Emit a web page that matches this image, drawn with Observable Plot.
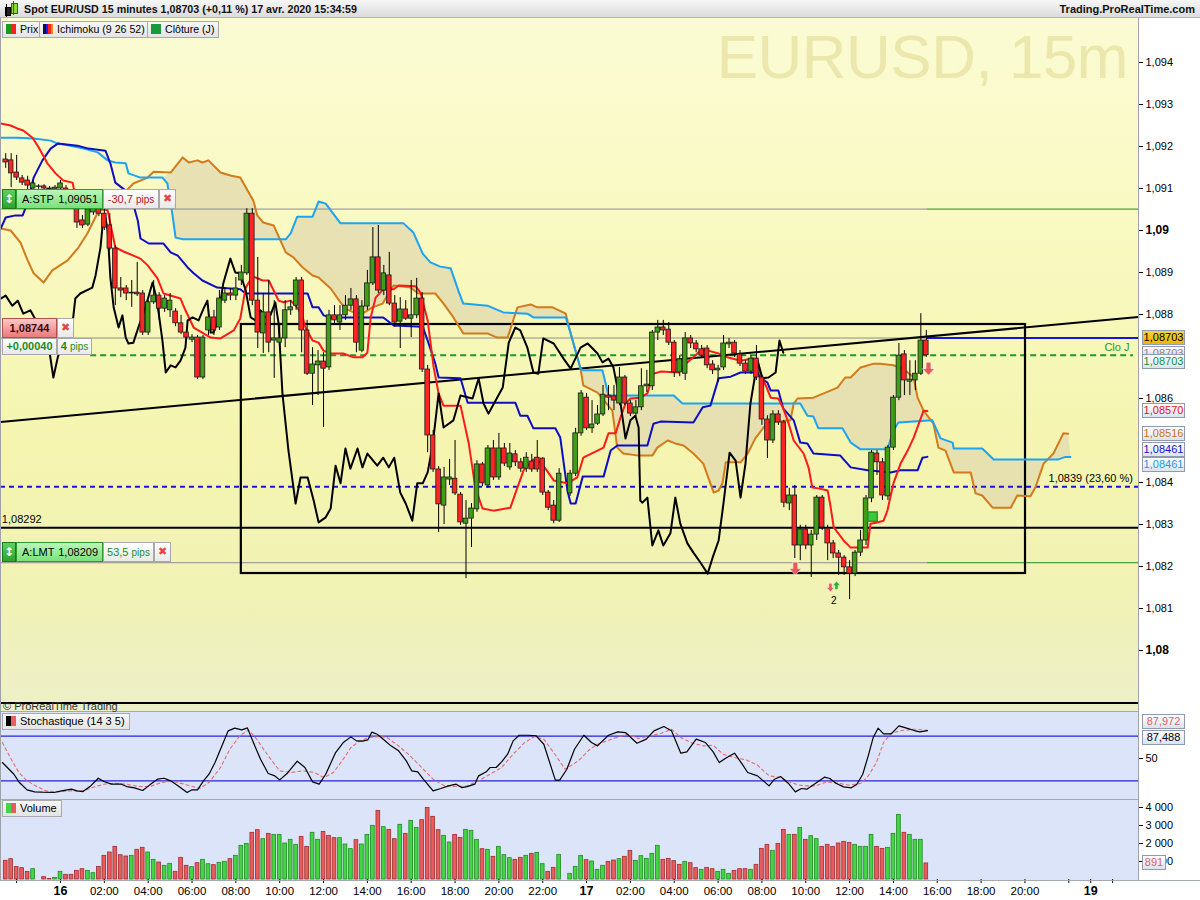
<!DOCTYPE html>
<html>
<head>
<meta charset="utf-8">
<script src="https://cdn.jsdelivr.net/npm/d3@7"></script>
<script src="https://cdn.jsdelivr.net/npm/@observablehq/plot@0.6"></script>
<style>
html,body{margin:0;padding:0;background:#fff;}
#root{position:relative;width:1200px;height:900px;overflow:hidden;font-family:"Liberation Sans",Arial,sans-serif;font-size:11px;color:#000;}
.a{position:absolute;}
.lg{position:absolute;box-sizing:border-box;top:21px;height:17px;line-height:15px;border:1px solid #a9a9a9;background:linear-gradient(#f7f7f7,#e4e4e4);padding:0 4px 0 3px;white-space:nowrap;font-size:10.6px;}
.lg2{font-size:11px;}
.ic{display:inline-block;width:10px;height:10px;vertical-align:-1px;margin-right:4px;}
.tag{position:absolute;box-sizing:border-box;left:1142px;width:43px;height:15px;line-height:13px;border:1px solid #8f9bb0;background:linear-gradient(#ffffff,#dce3ee);font-size:11px;text-align:center;overflow:hidden;}
.row{position:absolute;display:flex;height:20px;}
.row>div{box-sizing:border-box;height:100%;line-height:18px;white-space:nowrap;font-size:11px;overflow:hidden;}
.wb{background:linear-gradient(#ffffff,#e9e9e9);border:1px solid #a8a8a8;text-align:center;}
.gb{background:linear-gradient(#b9f6b9,#7ce07c);border:1px solid #2e9a2e;padding:0 4px 0 5px;display:flex;justify-content:space-between;}
.ib{background:linear-gradient(#5fd05f,#2ca42c);border:1px solid #1c7c1c;color:#fff;font-weight:bold;text-align:center;font-family:"DejaVu Sans",sans-serif;font-size:12px !important;}
.xx{color:#e04848;font-weight:bold;font-family:"DejaVu Sans",sans-serif;}
</style>
</head>
<body>
<div id="root"></div>
<script>
// ---------------- DATA ----------------
// candle index 0 = 16 avr. 00:00, one step = 15 minutes; prices in 1e-5 units
const firstCandle = -10;
const openPts = [
109169,109167,109138,109124,109119,109100,109104,109105,109100,109098,
109100,109100,109076,109052,109024,109014,109043,109052,109040,109012,
108957,108862,108862,108850,108852,108850,108757,108829,108845,108814,
108810,108807,108779,108757,108740,108745,108650,108762,108793,108769,
108833,108850,108845,108881,108898,109040,108833,108755,108805,108738,
108733,108743,108810,108821,108881,108762,108659,108679,108688,108674,
108798,108781,108798,108821,108836,108714,108819,108874,108936,108857,
108893,108826,108783,108812,108790,108798,108838,108669,108512,108431,
108345,108407,108409,108371,108302,108314,108336,108443,108393,108481,
108412,108481,108436,108467,108448,108433,108450,108459,108457,108376,
108345,108309,null,108374,108421,108517,108602,108529,108540,108562,
108607,108605,108588,108650,108588,108564,108579,108629,108629,108757,
108769,108764,108733,108662,108659,108743,108731,108717,108719,108681,
108667,108674,108729,108733,108705,108683,108664,108695,108650,108550,
108500,108562,108543,108350,108369,108250,108288,108250,108276,108364,
108290,108255,108231,108221,108198,108183,108233,108262,108362,108469,
108448,108367,108483,108602,108705,108640,108643,108659,108738];
const highPts = [
109183,109183,109179,109131,109129,109119,109109,109109,109105,109107,
109119,109107,109083,109071,109036,109059,109064,109059,109059,109040,
108964,108888,108869,108881,108924,108857,108833,108881,108852,108845,
108850,108814,108798,108762,108752,108750,108750,108821,108810,108857,
108864,108862,108888,108917,109052,109052,108936,108850,108881,108833,
108779,108833,108833,108888,108888,108786,108721,108714,108709,108810,
108821,108821,108845,108862,108845,108833,108905,109007,109012,108917,
108948,108845,108840,108833,108881,108886,108852,108679,108524,108438,
108436,108455,108500,108376,108357,108350,108452,108448,108488,108500,
108517,108493,108493,108476,108457,108471,108467,108500,108459,108381,
108357,108433,null,108429,108529,108619,108612,108595,108583,108631,
108631,108631,108674,108655,108595,108595,108671,108667,108762,108786,
108786,108781,108738,108702,108757,108750,108738,108726,108726,108690,
108679,108750,108743,108738,108714,108690,108702,108726,108655,108559,
108571,108571,108548,108386,108393,108298,108298,108286,108369,108369,
108298,108262,108238,108226,108214,108238,108286,108369,108476,108476,
108457,108488,108607,108731,108714,108690,108690,108802,108762];
const lowPts = [
109148,109102,109119,109107,109095,109090,109098,109093,109095,109093,
109083,109071,109052,109005,109005,109009,109036,109033,109000,108952,
108821,108840,108833,108817,108843,108750,108750,108824,108786,108805,
108793,108771,108752,108738,108733,108645,108645,108750,108750,108762,
108826,108833,108833,108869,108893,108821,108719,108707,108709,108648,
108721,108721,108798,108810,108709,108655,108583,108607,108531,108667,
108774,108762,108786,108810,108709,108709,108810,108869,108850,108845,
108821,108769,108719,108786,108745,108790,108662,108471,108424,108281,
108300,108393,108369,108298,108171,108245,108329,108390,108386,108405,
108405,108438,108429,108438,108424,108424,108424,108424,108369,108333,
108302,108305,null,108367,108414,108510,108524,108517,108536,108557,
108571,108571,108583,108583,108557,108557,108571,108614,108619,108738,
108750,108726,108650,108652,108643,108719,108709,108695,108671,108657,
108638,108667,108719,108698,108676,108657,108657,108643,108536,108457,
108493,108536,108340,108333,108219,108214,108240,108174,108262,108286,
108214,108219,108179,108179,108121,108176,108224,108250,108352,108417,
108357,108357,108476,108595,108607,108607,108619,108655,108698];
const closePts = [
109162,109136,109126,109114,109107,109112,109105,109100,109098,109102,
109112,109076,109059,109019,109012,109050,109052,109040,109007,108957,
108862,108857,108850,108852,108848,108757,108829,108845,108814,108838,
108833,108779,108757,108745,108745,108650,108745,108793,108762,108838,
108850,108845,108862,108900,109040,108833,108757,108805,108733,108743,
108743,108810,108817,108881,108762,108659,108681,108688,108671,108798,
108786,108798,108821,108836,108733,108819,108874,108936,108857,108898,
108826,108781,108812,108790,108798,108838,108669,108512,108431,108348,
108412,108412,108374,108305,108314,108338,108443,108398,108481,108412,
108481,108445,108469,108448,108433,108459,108431,108431,108376,108340,
108309,108421,null,108421,108517,108612,108529,108538,108562,108609,
108602,108595,108650,108588,108564,108579,108629,108633,108757,108769,
108762,108733,108662,108693,108743,108731,108717,108702,108679,108667,
108671,108731,108733,108707,108683,108664,108695,108650,108550,108500,
108562,108543,108352,108369,108250,108288,108250,108276,108364,108293,
108255,108231,108221,108198,108183,108233,108262,108362,108471,108448,
108369,108483,108602,108702,108643,108645,108659,108738,108703];
const volumes = [
1040,1130,700,630,425,574,0,130,30,90,
425,260,260,480,574,480,350,700,1315,1500,
1815,1350,1278,1315,1650,1760,1500,1093,944,760,
870,425,1204,760,685,907,1093,850,796,926,
981,1130,1315,1870,1980,2593,2740,2240,2537,2480,
2480,2000,2204,1926,2370,1815,2593,2204,2648,2426,
2296,2296,1944,1685,2185,1944,2480,2981,3815,2907,
2759,2240,3037,2537,3260,2870,3296,3981,3481,2740,
2426,2056,2480,2315,2759,2704,2204,1685,1648,1260,
1815,1352,1185,1093,1204,1315,1426,1481,852,426,
648,1370,0,315,704,1315,1074,1000,537,760,
981,1056,1130,1260,1593,1037,1296,1148,1426,1870,
1093,1148,1019,815,981,907,630,537,648,574,
426,537,315,481,574,574,537,815,1704,1926,
1593,1981,2759,2481,2481,2870,2204,2407,2241,1815,
1926,1815,2000,2093,2037,1926,1815,1815,2481,1815,
1704,1759,2537,3593,2593,2481,2204,2204,891];
const volumeSide = ("RRRRRG.RRG"+"GRRRRGGRRR"+"RRRGRRGGRG"+"GRRRGRGGRG"+"GRGGGRRGRG"+
  "GGGGRRGGRR"+"RGGGRGGGRG"+"RRGRGGRRRR"+"GGRRGGGRGR"+"GGGRRGRGGR"+"RG.GGGRGG"+
  "GRRGRRGGGG"+"GRRRRGRRGR"+"RGGGRRRGRR"+"RGRRGRGRGG"+"RRRRRRGGGG"+"RRGGGRGGGR").split("");

// Ichimoku (9 26 52) lines, read as [candle index], [price in 1e-5]
const tenkanIdx = [-10.9,-9.1,-7.9,-6.8,-5.1,-4.0,-2.4,-0.9,0.5,2.2,2.7,4.6,7.3,8.6,9.1,10.0,11.5,14.6,15.9,17.7,18.8,21.9,22.8,24.3,27.4,29.2,31.6,32.8,33.8,35.0,35.6,36.9,38.0,38.9,39.8,40.7,42.0,43.2,44.2,44.7,46.0,47.1,48.0,49.3,51.6,53.5,55.1,56.0,56.6,57.5,58.9,60.8,61.7,64.8,65.7,67.0,68.1,69.0,69.9,73.0,74.5,75.7,77.0,79.0,82.1,83.0,84.5,86.3,87.6,88.5,90.0,92.5,94.3,95.4,99.1,100.0,101.3,102.2,103.1,104.0,105.8,107.1,108.2,109.5,112.8,114.1,115.5,117.2,118.2,120.1,121.7,124.1,126.3,127.2,127.7,128.7,129.6,131.0,131.8,132.7,133.8,135.6,136.5,137.2,138.3,140.0,140.5,141.1,141.8,142.9,144.2,147.3,147.8,149.1,150.2,150.9,152.0,153.3,154.6,155.7,157.5,158.2];
const tenkanVal = [109255,109250,109243,109238,109221,109198,109160,109136,109119,109114,109083,109059,109052,109048,109017,108960,108950,108933,108917,108886,108850,108838,108810,108769,108745,108743,108762,108790,108864,108890,108888,108881,108881,108857,108833,108829,108833,108817,108793,108769,108738,108733,108714,108707,108707,108698,108698,108709,108793,108840,108860,108860,108869,108867,108852,108786,108674,108612,108583,108583,108493,108388,108338,108333,108340,108374,108429,108455,108448,108433,108405,108398,108412,108459,108483,108517,108517,108555,108588,108600,108602,108612,108659,108664,108662,108683,108698,108719,108714,108707,108698,108690,108695,108693,108659,108631,108602,108600,108579,108548,108500,108469,108436,108388,108386,108381,108345,108293,108281,108262,108245,108245,108302,108305,108309,108333,108398,108445,108476,108507,108571,108570];
const kijunIdx = [-10.9,-10.0,-8.2,-6.9,-6.0,-4.9,-3.3,-1.8,-0.5,3.1,5.1,8.2,9.1,10.0,11.9,13.1,14.1,14.6,16.1,18.8,20.1,21.4,23.2,24.3,25.9,28.6,31.0,32.8,33.8,45.1,46.0,47.1,48.0,49.3,58.9,60.8,66.1,67.0,68.4,69.0,73.0,74.3,83.0,83.9,85.2,86.3,90.3,91.2,92.5,93.1,94.0,95.3,99.1,100.4,101.6,107.1,108.2,109.5,115.5,117.2,118.6,120.1,122.3,124.1,127.2,127.7,129.0,129.6,131.0,131.9,133.8,135.0,136.3,137.4,142.3,144.2,147.3,151.5,153.3,156.4,157.3,158.2];
const kijunVal = [109005,109031,109036,109036,109067,109126,109167,109195,109207,109202,109195,109190,109160,109114,109095,109071,109024,108981,108969,108969,108948,108940,108912,108898,108881,108864,108862,108860,108850,108850,108817,108817,108798,108793,108793,108774,108771,108738,108683,108650,108648,108590,108590,108559,108559,108529,108529,108507,108381,108350,108350,108414,108414,108476,108488,108488,108540,108545,108543,108579,108583,108648,108652,108662,108662,108650,108638,108619,108619,108576,108548,108495,108493,108469,108464,108436,108429,108424,108429,108429,108459,108461];
const spanAIdx = [-10.9,-7.9,-4.9,-1.8,-0.5,1.8,4.2,6.8,8.6,10.0,11.9,12.4,14.6,18.6,19.5,20.4,21.0,22.4,41.1,42.0,43.2,46.0,47.1,48.4,51.1,62.6,64.4,66.1,67.5,69.3,71.2,72.6,73.5,77.9,80.8,85.2,86.3,92.2,93.1,94.9,95.4,98.9,100.0,111.9,113.5,135.0,136.3,137.4,138.3,142.7,144.2,146.0,150.9,152.0,152.9,159.1,160.6,162.8,163.0,168.2,170.3,182.1,183.4,184.3];
const spanAVal = [109221,109221,109219,109214,109207,109202,109195,109186,109167,109162,109160,109136,109126,109126,109112,109040,108983,108979,108979,108993,109033,109033,109069,109064,109017,109017,108995,108945,108924,108914,108910,108857,108826,108821,108805,108802,108793,108793,108755,108671,108667,108667,108607,108607,108588,108588,108559,108557,108529,108529,108495,108479,108479,108524,108543,108548,108505,108495,108481,108481,108455,108455,108461,108461];
const spanBIdx = [-10.9,-9.1,-7.3,-6.0,-4.9,-3.1,-1.5,1.3,3.3,4.9,6.8,7.3,9.1,10.4,11.5,13.3,15.9,17.0,20.1,22.3,23.4,25.0,25.9,27.0,29.2,31.0,32.8,35.2,35.9,37.0,38.9,41.1,42.5,44.2,46.0,47.1,49.3,51.1,52.0,53.5,55.1,56.9,58.8,59.9,60.8,62.0,63.9,65.3,68.4,69.9,71.7,73.5,77.9,79.7,81.6,82.7,83.4,85.8,87.0,89.8,92.2,93.1,94.9,95.4,98.0,100.7,101.6,102.7,105.5,108.0,108.9,110.8,112.2,113.7,115.5,117.3,119.2,120.1,120.8,121.4,124.1,125.4,126.8,128.3,129.2,133.2,133.8,134.5,137.4,141.8,143.2,144.2,146.0,148.4,149.6,152.0,153.8,155.7,156.4,157.5,159.3,160.2,161.5,163.0,166.1,167.0,168.2,170.1,173.4,174.6,177.0,177.9,179.4,181.2,183.0,183.9];
const spanBVal = [109005,109000,108971,108929,108898,108876,108905,108929,108960,108993,109043,109048,109055,109067,109088,109112,109126,109140,109138,109174,109162,109167,109162,109167,109138,109131,109126,109071,109036,109019,109012,108948,108936,108912,108893,108888,108862,108829,108814,108805,108802,108817,108826,108852,108869,108867,108864,108850,108850,108826,108793,108755,108755,108745,108745,108790,108817,108824,108817,108817,108802,108755,108671,108631,108614,108571,108483,108469,108464,108464,108483,108500,108493,108488,108469,108445,108376,108381,108398,108448,108448,108469,108505,108531,108543,108548,108588,108600,108602,108626,108650,108650,108674,108683,108683,108679,108671,108650,108602,108571,108540,108483,108476,108424,108424,108374,108369,108340,108340,108369,108367,108388,108445,108469,108517,108516];
const chikouIdx = [-10.9,-10.0,-8.8,-7.8,-6.8,-5.5,-4.2,-2.4,-1.3,-0.5,0.9,2.2,2.7,3.6,5.8,6.4,7.3,7.8,8.2,8.6,9.1,9.7,10.6,11.3,11.9,12.4,13.3,14.2,15.5,16.8,17.3,17.9,18.6,19.2,20.1,21.0,21.9,22.8,23.2,24.1,25.2,26.1,26.8,27.4,27.9,28.6,29.7,31.0,31.9,32.8,33.8,34.7,35.6,36.5,37.4,38.3,39.2,39.8,40.5,41.6,42.9,43.8,45.1,46.2,47.1,48.4,49.3,50.2,51.1,52.0,52.9,54.2,55.1,56.0,57.8,58.9,59.9,60.9,62.0,63.0,64.2,65.1,66.1,67.0,67.9,69.0,69.9,71.7,73.0,75.2,76.3,77.2,78.1,79.4,80.7,81.8,83.0,83.9,85.2,86.3,87.2,88.1,90.0,91.8,93.1,94.9,96.2,98.0,98.9,100.0,100.9,102.2,103.1,104.0,104.9,105.5,105.8,106.2,107.1,108.0,109.1,110.0,111.3,112.2,113.1,114.4,115.5,116.8,118.1,119.0,120.1,121.0,122.1,123.2,124.1,125.0,125.9,127.2,128.1,129.2,130.5,131.2,131.9];
const chikouVal = [108838,108845,108821,108833,108802,108810,108779,108745,108650,108698,108755,108779,108838,108850,108864,108893,108960,109029,109031,109000,108888,108817,108769,108798,108745,108731,108733,108769,108817,108876,108850,108805,108738,108662,108679,108674,108690,108721,108786,108793,108786,108814,108833,108757,108757,108779,108874,108933,108900,108898,108857,108793,108786,108810,108793,108798,108829,108779,108612,108476,108350,108412,108412,108357,108305,108317,108338,108440,108398,108481,108433,108481,108436,108469,108440,108459,108436,108459,108376,108350,108309,108398,108398,108424,108488,108612,108531,108548,108607,108600,108648,108588,108564,108595,108626,108733,108769,108762,108721,108662,108659,108743,108731,108695,108671,108721,108731,108707,108686,108695,108674,108588,108505,108548,108559,108531,108357,108352,108364,108250,108286,108250,108279,108364,108302,108255,108233,108209,108183,108221,108262,108352,108471,108452,108364,108445,108588,108690,108648,108650,108662,108738,108709];

// Stochastique (14 3 5): %K (black) and %D (dashed)
const stochKIdx = [-10.6,-8.5,-7.5,-6.1,-4.7,-3.3,-1.2,0.2,2.0,3.0,4.1,5.5,6.9,7.9,9.3,11.1,12.1,13.5,15.0,16.3,17.7,18.9,20.1,21.5,23.1,24.0,25.0,26.1,27.1,28.2,29.2,30.6,31.8,33.1,34.1,35.2,36.5,37.9,39.0,40.0,41.4,43.2,44.6,46.0,47.2,48.4,50.2,51.6,53.0,54.0,55.1,56.1,56.8,57.8,58.9,60.3,61.7,63.1,64.1,65.2,66.2,68.0,69.4,70.8,72.2,73.2,74.2,75.6,76.3,77.7,78.4,79.5,80.5,81.6,82.6,83.7,85.4,86.8,88.2,90.3,91.1,92.4,93.8,95.5,96.9,98.0,98.5,100.0,101.7,103.1,105.2,106.9,108.3,110.1,111.5,113.2,114.3,116.0,117.7,119.1,120.2,121.6,123.0,124.4,125.4,127.2,129.3,130.3,131.4,132.8,134.1,135.2,136.2,138.0,139.4,140.4,141.5,142.9,144.3,145.3,146.4,147.4,148.3,149.2,150.2,151.6,153.0,154.4,155.8,156.8,158.2];
const stochKVal = [44.6,28.9,17.7,7.9,5.2,4.7,4.3,6.5,8.8,6.5,5.6,13.2,23.5,19.1,15.5,15.5,12.3,10.6,7.0,14.6,22.2,23.5,20.0,13.2,4.3,7.9,7.9,20.0,28.9,44.6,62.5,87.2,90.8,88.5,91.2,71.5,49.1,29.8,27.1,21.3,30.3,46.4,37.9,18.6,15.5,28.9,58.0,71.5,79.1,73.7,73.3,75.1,85.4,82.7,76.0,67.0,60.3,46.8,33.4,32.1,22.2,6.5,9.7,13.2,15.5,11.0,12.3,15.5,26.7,32.1,37.9,37.9,45.5,55.8,73.7,81.3,81.3,80.4,69.2,20.9,20.9,35.6,62.5,81.3,71.5,67.0,70.6,81.3,85.8,84.9,70.6,76.0,87.2,93.0,87.2,57.2,58.9,76.0,71.5,58.9,44.6,51.3,57.2,42.4,31.2,26.7,13.2,22.2,25.8,16.8,5.2,9.7,8.8,17.7,24.9,23.1,16.8,11.9,10.6,15.0,28.9,53.6,78.2,90.8,83.1,83.1,93.9,90.8,87.6,85.8,87.5];
const stochDIdx = [-10.6,-9.0,-7.6,-6.1,-4.3,-2.6,-0.5,1.6,4.1,5.8,7.9,10.0,12.1,14.2,16.3,18.4,20.5,22.6,25.4,27.1,29.2,30.9,32.7,34.3,35.8,37.9,40.0,42.1,44.2,46.3,48.1,49.8,51.6,53.0,54.4,56.1,58.2,59.6,61.7,63.8,65.9,68.0,70.1,72.2,74.2,76.3,78.4,80.5,82.6,84.7,86.5,88.2,90.0,92.1,94.5,96.6,98.0,100.6,103.4,105.5,107.6,109.7,111.5,113.2,115.3,117.4,119.1,120.9,123.0,125.1,127.2,129.3,131.4,133.5,135.6,137.7,139.8,141.9,144.0,146.1,147.4,148.9,150.2,151.6,153.4,155.8,158.2];
const stochDVal = [71.5,49.1,31.2,20.0,12.3,6.5,5.2,6.5,6.5,11.0,15.5,16.8,15.5,12.3,12.3,17.7,19.5,15.5,9.7,17.7,37.9,62.5,80.4,88.5,76.0,53.6,33.4,31.2,33.4,31.2,24.4,31.2,49.1,64.8,72.4,78.2,79.6,78.2,67.0,53.6,37.9,22.2,13.2,12.3,13.2,20.0,28.9,37.9,55.8,71.5,79.6,76.0,58.0,35.6,46.8,62.5,69.2,76.0,82.7,76.9,80.4,84.0,89.4,78.2,70.6,67.0,67.9,55.8,51.3,48.2,41.0,26.7,24.4,16.8,13.2,13.2,18.6,16.8,14.1,16.8,26.7,44.6,71.5,84.0,87.6,89.4,88.0];
const stochBands = [80, 20];

// Levels and drawings on the price panel
const stopLevel = 1.09051, limitLevel = 1.08209, alertLevel = 1.08744;
const dailyClose = 1.08703, supportLevel = 1.08292, fiboLevel = 1.0839;
const orderStartIdx = 158.2;
const boxIdx = [33.0, 176.1], boxPrice = [1.081833, 1.087762];
const trendIdx = [-10.95, 196.7], trendPrice = [1.08544, 1.08794];
const signalIdx = [134.1, 158.4], signalPrice = [1.08195, 1.08671];
const smallSigIdx = [140.5, 141.6], smallSigPrice = [1.08150, 1.08155], smallSigDir = ["down", "up"];
const countIdx = [141.1], countPrice = [1.08119], countText = ["2"];
const entryIdx = [148.2], entryPrice = [1.08319];

// Axis ticks
const priceTicks = [1.081,1.082,1.083,1.084,1.086,1.088,1.089,1.091,1.092,1.093,1.094];
const priceTicksBold = [1.08, 1.09];
const timeTickIdx = [8,16,24,32,40,48,56,64,72,80,88,104,112,120,128,136,144,152,160,168,176];
const timeTickLabel = ["02:00","04:00","06:00","08:00","10:00","12:00","14:00","16:00","18:00","20:00","22:00","02:00","04:00","06:00","08:00","10:00","12:00","14:00","16:00","18:00","20:00"];
const dayTickIdx = [0, 96, 188], dayTickLabel = ["16", "17", "19"];
const blankTickIdx = [-8, 184, 192];
const volumeTicks = [1000, 2000, 3000, 4000];
const stochTicks = [50];

// value tags
const priceTagText = ["1,08703","1,08703","1,08703","1,08570","1,08516","1,08461","1,08461"];
const priceTagAt = [1.08744, 1.08703, 1.08703, 1.08570, 1.08516, 1.08461, 1.08461];
const priceTagShift = [0, -1, 7, 0, 0, -7, 8];
const priceTagColor = ["#000","#888","#16913a","#e01515","#c8701a","#1414c8","#1a9be6"];
const priceTagBg = ["linear-gradient(#f8d23a,#eab600)","","","","","",""];
const stochTagText = ["87,972","87,488"], stochTagAt = [87.972, 87.488], stochTagShift = [-8, 7], stochTagColor = ["#e06060","#000"];
const volTagText = ["891"], volTagAt = [891];

// ---------------- BUILD ----------------
const P = 1e5;
const FONT = "'Liberation Sans', Arial, sans-serif";
const xDomain = [-10.95, 196.72];
const priceDomain = [1.0787381, 1.0950476];
const GREEN = "#3f9e16", RED = "#ff2424";

const candles = [];
openPts.forEach((o, k) => {
  if (o == null) return;
  candles.push({i: firstCandle + k, o: o / P, h: highPts[k] / P, l: lowPts[k] / P, c: closePts[k] / P});
});
const vols = volumes.map((v, k) => ({i: firstCandle + k, v, s: volumeSide[k]})).filter(d => d.v > 0 && d.s !== ".");
const pts = (idx, val) => idx.map((i, k) => ({i, p: val[k] / P}));
const tenkan = pts(tenkanIdx, tenkanVal), kijun = pts(kijunIdx, kijunVal);
const spanA = pts(spanAIdx, spanAVal), spanB = pts(spanBIdx, spanBVal), chikou = pts(chikouIdx, chikouVal);
const cloud = spanA.filter(d => d.i >= 18.5).concat(spanB.filter(d => d.i >= 18.5).reverse());
const stochK = stochKIdx.map((i, k) => ({i, v: stochKVal[k]}));
const stochD = stochDIdx.map((i, k) => ({i, v: stochDVal[k]}));
const fmtPrice = d => String(+d.toFixed(3)).replace(".", ",");

function arrowSymbol(dir) {
  const s = dir === "down" ? 1 : -1;
  return {draw(ctx, size) {
    const r = Math.sqrt(size / Math.PI);
    ctx.moveTo(-0.38 * r, -s * r); ctx.lineTo(0.38 * r, -s * r); ctx.lineTo(0.38 * r, 0);
    ctx.lineTo(0.95 * r, 0); ctx.lineTo(0, s * r); ctx.lineTo(-0.95 * r, 0); ctx.lineTo(-0.38 * r, 0); ctx.closePath();
  }};
}
const rule = (p, a, b, stroke, w, dash) => Plot.ruleY([{p, a, b}], {y: "p", x1: "a", x2: "b", stroke, strokeWidth: w, strokeDasharray: dash});

const pricePlot = Plot.plot({
  width: 1200, height: 685, marginLeft: 0, marginRight: 62, marginTop: 0, marginBottom: 0,
  x: {domain: xDomain, axis: null},
  y: {domain: priceDomain},
  color: {type: "identity"},
  style: {background: "transparent", fontFamily: FONT, fontSize: "11px", color: "#000"},
  marks: [
    Plot.line(cloud, {x: "i", y: "p", fill: "#e4ddb0", fillOpacity: 0.85, stroke: "none"}),
    rule(stopLevel, xDomain[0], orderStartIdx, "#8e8e8e", 1),
    rule(stopLevel, orderStartIdx, xDomain[1], "#1e8c1e", 1),
    rule(limitLevel, xDomain[0], orderStartIdx, "#8e8e8e", 1),
    rule(limitLevel, orderStartIdx, xDomain[1], "#1e8c1e", 1),
    rule(alertLevel, xDomain[0], orderStartIdx, "#8e8e8e", 1),
    rule(alertLevel, orderStartIdx, xDomain[1], "#1515e0", 2),
    rule(dailyClose, 5.5, 195.8, "#1a9a2e", 2, "6,4"),
    rule(supportLevel, xDomain[0], xDomain[1], "#000", 2),
    rule(fiboLevel, xDomain[0], xDomain[1], "#1515e0", 2, "5,4"),
    Plot.rect([{a: boxIdx[0], b: boxIdx[1], lo: boxPrice[0], hi: boxPrice[1]}], {x1: "a", x2: "b", y1: "lo", y2: "hi", fill: "none", stroke: "#000", strokeWidth: 2.2}),
    Plot.line(trendIdx.map((i, k) => ({i, p: trendPrice[k]})), {x: "i", y: "p", stroke: "#000", strokeWidth: 2}),
    Plot.line(spanB, {x: "i", y: "p", stroke: "#d27a1c", strokeWidth: 2}),
    Plot.line(spanA, {x: "i", y: "p", stroke: "#1ca3f2", strokeWidth: 2}),
    Plot.line(kijun, {x: "i", y: "p", stroke: "#0d0dc4", strokeWidth: 2}),
    Plot.line(tenkan, {x: "i", y: "p", stroke: "#ff1a1a", strokeWidth: 2}),
    Plot.line(chikou, {x: "i", y: "p", stroke: "#000", strokeWidth: 2, curve: "linear"}),
    Plot.ruleX(candles, {x: "i", y1: "l", y2: "h", stroke: "#000", strokeWidth: 1}),
    Plot.rect(candles, {x1: d => d.i - 0.42, x2: d => d.i + 0.42, y1: "o", y2: "c", fill: d => d.c >= d.o ? GREEN : RED, stroke: "#1a1a1a", strokeWidth: 0.8}),
    Plot.dot(signalIdx.map((i, k) => ({i, p: signalPrice[k]})), {x: "i", y: "p", r: 6.5, symbol: arrowSymbol("down"), fill: "#e45c5c", stroke: "#fff", strokeWidth: 0.6}),
    Plot.dot([{i: smallSigIdx[0], p: smallSigPrice[0]}], {x: "i", y: "p", r: 4.2, symbol: arrowSymbol(smallSigDir[0]), fill: "#e45c5c", stroke: "#fff", strokeWidth: 0.5}),
    Plot.dot([{i: smallSigIdx[1], p: smallSigPrice[1]}], {x: "i", y: "p", r: 4.2, symbol: arrowSymbol(smallSigDir[1]), fill: "#2fb02f", stroke: "#fff", strokeWidth: 0.5}),
    Plot.text(countIdx.map((i, k) => ({i, p: countPrice[k], t: countText[k]})), {x: "i", y: "p", text: "t", fontSize: 10, fill: "#000"}),
    Plot.dot(entryIdx.map((i, k) => ({i, p: entryPrice[k]})), {x: "i", y: "p", symbol: "square", r: 5.2, fill: "#3cc83c", stroke: "#2a9a2a"}),
    Plot.text([{i: -10.7, p: supportLevel, t: "1,08292"}], {x: "i", y: "p", text: "t", dy: -8, textAnchor: "start", fontSize: 11, fill: "#000"}),
    Plot.text([{i: 180.3, p: fiboLevel, t: "1,0839 (23,60 %)"}], {x: "i", y: "p", text: "t", dy: -8, textAnchor: "start", fontSize: 11, fill: "#000"}),
    Plot.text([{i: 190.5, p: dailyClose, t: "Clo J"}], {x: "i", y: "p", text: "t", dy: -8, textAnchor: "start", fontSize: 11, fill: "#1a9a2e"}),
    Plot.axisY({anchor: "right", label: null, ticks: priceTicks, tickFormat: fmtPrice, tickSize: 4, tickPadding: 3, fontSize: 11}),
    Plot.axisY({anchor: "right", label: null, ticks: priceTicksBold, tickFormat: fmtPrice, tickSize: 4, tickPadding: 3, fontSize: 12, fontWeight: "bold"})
  ]
});

const stochPlot = Plot.plot({
  width: 1200, height: 87, marginLeft: 0, marginRight: 62, marginTop: 0, marginBottom: 0,
  x: {domain: xDomain, axis: null},
  y: {domain: [-5.08, 111.85]},
  color: {type: "identity"},
  style: {background: "transparent", fontFamily: FONT, fontSize: "11px", color: "#000"},
  marks: [
    Plot.ruleY(stochBands, {x1: xDomain[0], x2: xDomain[1], stroke: "#2424d8", strokeWidth: 1.3}),
    Plot.line(stochD, {x: "i", y: "v", stroke: "#e46c6c", strokeWidth: 1.1, strokeDasharray: "3,3"}),
    Plot.line(stochK, {x: "i", y: "v", stroke: "#000", strokeWidth: 1.2}),
    Plot.axisY({anchor: "right", label: null, ticks: stochTicks, tickSize: 4, tickPadding: 3, fontSize: 11})
  ]
});

const volPlot = Plot.plot({
  width: 1200, height: 100, marginLeft: 0, marginRight: 62, marginTop: 0, marginBottom: 21,
  x: {domain: xDomain},
  y: {domain: [0, 4389]},
  color: {type: "identity"},
  style: {background: "transparent", fontFamily: FONT, fontSize: "11px", color: "#000"},
  marks: [
    Plot.rectY(vols, {x1: d => d.i - 0.34, x2: d => d.i + 0.34, y: "v", fill: d => d.s === "G" ? "#44d544" : "#e85c5c", stroke: d => d.s === "G" ? "#1f8a1f" : "#a02c2c", strokeWidth: 0.8}),
    Plot.axisY({anchor: "right", label: null, ticks: volumeTicks, tickFormat: d => (d / 1000) + " 000", tickSize: 4, tickPadding: 3, fontSize: 11}),
    Plot.axisX({anchor: "bottom", label: null, ticks: timeTickIdx, tickFormat: i => timeTickLabel[timeTickIdx.indexOf(i)], tickSize: 4, tickPadding: 3, fontSize: 11.5}),
    Plot.axisX({anchor: "bottom", label: null, ticks: dayTickIdx, tickFormat: i => dayTickLabel[dayTickIdx.indexOf(i)], tickSize: 4, tickPadding: 3, fontSize: 12.5, fontWeight: "bold"}),
    Plot.axisX({anchor: "bottom", label: null, ticks: blankTickIdx, tickFormat: () => "", tickSize: 4})
  ]
});

// ---------------- LAYOUT ----------------
const root = document.getElementById("root");
const add = html => root.insertAdjacentHTML("beforeend", html);
const box = (l, t, w, h, css) => add(`<div class="a" style="left:${l}px;top:${t}px;width:${w}px;height:${h}px;${css}"></div>`);

// backgrounds
box(0, 18, 1138, 693, "background:linear-gradient(180deg,#fbfbd4 0%,#f9f9c2 30%,#f5f5b0 62%,#f1f2b4 82%,#edf0c8 100%)");
box(0, 711, 1138, 88, "background:#dce4fa");
box(0, 800, 1138, 80, "background:#dce4fa");
// watermark
add(`<div class="a" style="right:${1200-1128}px;top:22px;font-size:62px;line-height:70px;color:#ece7ad;white-space:nowrap;letter-spacing:-0.5px">EURUSD, 15m</div>`);

function mount(svg, top) { svg.style.position = "absolute"; svg.style.left = "0px"; svg.style.top = top + "px"; root.appendChild(svg); }
mount(pricePlot, 18);
mount(stochPlot, 712);
mount(volPlot, 800);

// panel borders
box(0, 702, 1138, 2, "background:#000");
box(0, 711, 1138, 1, "background:#a4a8b0");
box(0, 799, 1138, 1, "background:#a4a8b0");
box(0, 880, 1200, 1, "background:#a4a8b0");
box(1138, 18, 1, 862, "background:#9ea2a8");
box(0, 18, 1, 862, "background:#9ea2a8");
add(`<div class="a" style="left:3px;top:700px;font-size:11px;line-height:12px;color:#333">© ProRealTime Trading</div>`);

// header
add(`<div class="a" style="left:0;top:0;width:1200px;height:18px;background:linear-gradient(#f6f6f6,#dcdcdc);border-bottom:1px solid #b4b4b4;box-sizing:border-box"></div>`);
box(5, 7, 4, 7, "background:#222;border:1px solid #000");
box(6, 4, 1, 13, "background:#000");
box(11, 3, 5, 9, "background:#8ad83a;border:1px solid #2a6a10");
box(13, 1, 1, 14, "background:#2a6a10");
add(`<div class="a" style="left:24px;top:2px;font-weight:bold;font-size:10.7px;line-height:14px;color:#111;white-space:nowrap">Spot EUR/USD 15 minutes 1,08703 (+0,11 %) 17 avr. 2020 15:34:59</div>`);
add(`<div class="a" style="right:5px;top:2px;font-weight:bold;font-size:11px;line-height:14px;color:#111;white-space:nowrap">Trading.ProRealTime.com</div>`);

// legends
add(`<div class="lg" style="left:2px"><span class="ic" style="background:linear-gradient(90deg,#1c9a1c 50%,#ff2020 50%)"></span>Prix</div>`);
add(`<div class="lg" style="left:39px"><span class="ic" style="background:linear-gradient(90deg,#10103c 25%,#2020e0 25%,#2020e0 50%,#ff2020 50%,#ff2020 75%,#f08a10 75%)"></span>Ichimoku (9 26 52)</div>`);
add(`<div class="lg" style="left:147px"><span class="ic" style="background:#169a3c"></span>Clôture (J)</div>`);
add(`<div class="lg lg2" style="left:2px;top:713px"><span class="ic" style="background:linear-gradient(90deg,#000 50%,#e86060 50%)"></span>Stochastique (14 3 5)</div>`);
add(`<div class="lg lg2" style="left:2px;top:800px"><span class="ic" style="background:linear-gradient(90deg,#44d544 50%,#e85c5c 50%)"></span>Volume</div>`);

// order / alert boxes on the left
const py = v => 18 + pricePlot.scale("y").apply(v);
function orderRow(level, kind, price, pips, pipsColor, pipsW) {
  const t = Math.round(py(level)) - 20;
  add(`<div class="row" style="left:2px;top:${t}px">
    <div class="ib" style="width:14px">↕</div>
    <div class="gb" style="width:87px"><span>${kind}</span><span>${price}</span></div>
    <div class="wb" style="width:${pipsW}px;color:${pipsColor}">${pips} <span style="font-size:10px">pips</span></div>
    <div class="wb xx" style="width:17px">✖</div></div>`);
}
orderRow(stopLevel, "A:STP", "1,09051", "-30,7", "#b41818", 56);
orderRow(limitLevel, "A:LMT", "1,08209", "53,5", "#1e8c1e", 51);
{
  const t = Math.round(py(alertLevel)) - 20;
  add(`<div class="row" style="left:2px;top:${t}px">
    <div style="width:55px;background:linear-gradient(#fbc8c8,#ec7a7a);border:1px solid #b05050;text-align:center;font-weight:bold;color:#3a0a0a">1,08744</div>
    <div class="wb xx" style="width:17px">✖</div></div>`);
  add(`<div class="row" style="left:2px;top:${t + 20}px;height:17px">
    <div class="wb" style="width:55px;line-height:15px;color:#1e8c1e;font-weight:bold">+0,00040</div>
    <div class="wb" style="width:35px;line-height:15px;color:#1e8c1e"><b>4</b> <span style="font-size:10px">pips</span></div></div>`);
}

// right value tags (the 2nd one is mostly hidden behind the 3rd, as in the platform)
priceTagText.forEach((t, k) => {
  let top = py(priceTagAt[k]) + priceTagShift[k] - 7.5;
  const bg = priceTagBg[k] ? `background:${priceTagBg[k]};` : "";
  if (k === 1) {
    add(`<div class="tag" style="top:${top}px;height:8px;line-height:13px;color:${priceTagColor[k]};${bg}border-bottom:none">${t}</div>`);
  } else {
    add(`<div class="tag" style="top:${top}px;color:${priceTagColor[k]};${bg}">${t}</div>`);
  }
});
const sy = v => 712 + stochPlot.scale("y").apply(v);
stochTagText.forEach((t, k) => {
  add(`<div class="tag" style="top:${sy(stochTagAt[k]) + stochTagShift[k] - 7.5}px;color:${stochTagColor[k]}">${t}</div>`);
});
const vy = v => 800 + volPlot.scale("y").apply(v);
volTagText.forEach((t, k) => {
  add(`<div class="tag" style="top:${vy(volTagAt[k]) - 7.5}px;width:24px;color:#e06060">${t}</div>`);
});
</script>
</body>
</html>
